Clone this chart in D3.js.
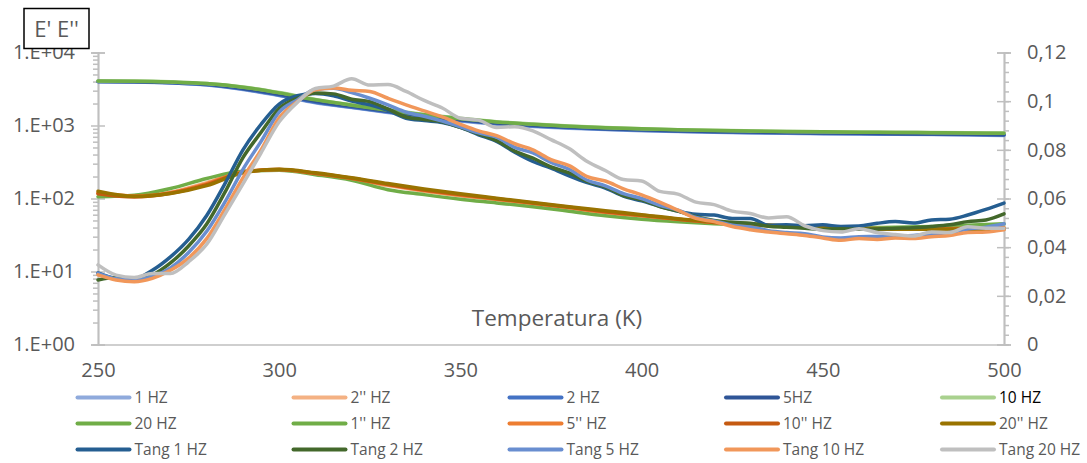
<!DOCTYPE html>
<html>
<head>
<meta charset="utf-8">
<script src="https://cdn.jsdelivr.net/npm/d3@7"></script>
<style>
  body { margin: 0; background: #fff; }
  text { font-family: "Open Sans", sans-serif; }
</style>
</head>
<body>
<script>
// temperatures (K)
var tempE = [250, 260, 270, 280, 290, 300, 310, 320, 330, 340, 350, 360, 370,
    380, 390, 400, 410, 420, 430, 440, 450, 460, 470, 480, 490, 500];
var tempTan = [250, 255, 260, 265, 270, 275, 280, 285, 290, 295, 300, 305, 310,
    315, 320, 325, 330, 335, 340, 345, 350, 355, 360, 365, 370, 375, 380, 385,
    390, 395, 400, 405, 410, 415, 420, 425, 430, 435, 440, 445, 450, 455, 460,
    465, 470, 475, 480, 485, 490, 495, 500];

// E' (storage modulus), left log axis
var e1 = [3990, 3950, 3830, 3590, 3120, 2570, 2050, 1760, 1510, 1310, 1155, 1045, 972, 920, 880, 850, 826, 806, 792, 782, 772, 764, 757, 750, 742, 732];
var e2 = [4000, 3960, 3840, 3610, 3150, 2600, 2080, 1780, 1530, 1330, 1170, 1060, 985, 930, 890, 860, 835, 815, 800, 790, 780, 772, 765, 758, 750, 740];
var e5 = [4020, 3990, 3880, 3660, 3220, 2680, 2150, 1830, 1570, 1360, 1200, 1085, 1005, 950, 905, 872, 848, 828, 812, 800, 790, 781, 773, 765, 757, 748];
var e10 = [4080, 4060, 3960, 3760, 3370, 2830, 2280, 1920, 1640, 1420, 1255, 1130, 1050, 988, 940, 905, 878, 858, 843, 830, 820, 812, 806, 800, 794, 788];
var e20 = [4070, 4050, 3950, 3750, 3350, 2800, 2250, 1900, 1620, 1400, 1240, 1120, 1040, 980, 935, 900, 875, 855, 840, 828, 818, 810, 805, 798, 792, 785];

// E'' (loss modulus), left log axis
var l1 = [106, 111, 137, 188, 237, 243, 212, 178, 132, 113, 98, 87, 77, 67, 58, 52, 48, 45, 43, 41.5, 40.5, 40, 40.5, 41.5, 43, 45];
var l2 = [118, 108, 122, 165, 232, 248, 218, 185, 150, 126, 109, 96, 84, 73, 64, 57, 51, 47, 44, 42, 40.5, 39.5, 39, 39, 39.5, 40];
var l5 = [120, 108, 120, 160, 230, 250, 220, 188, 154, 129, 111, 98, 86, 75, 65, 58, 52, 47, 44, 41.5, 40, 39, 38.5, 38.5, 39, 39.5];
var l10 = [116, 105, 118, 155, 228, 250, 222, 190, 156, 131, 113, 99, 87, 76, 66, 59, 52, 47, 44, 41.5, 40, 38.5, 38, 38, 38.5, 39];
var l20 = [126, 107, 117, 150, 225, 252, 225, 192, 160, 135, 116, 101, 88, 77, 68, 60, 53, 48, 45, 42, 40, 38.5, 38, 38, 38, 38];

// tan delta, right linear axis
var t1 = [.0294, .0272, .027, .0305, .036, .0432, .053, .066, .08, .0905, .0988, .1022, .1032, .1022, .1, .0985, .0962, .093, .092, .0912, .0892, .0862, .0835, .079, .0752, .0725, .0693, .0665, .0643, .061, .059, .0568, .0548, .0535, .0532, .0518, .0518, .049, .0492, .0488, .0492, .0485, .0487, .0498, .0505, .0499, .0512, .0515, .0532, .0555, .0581];
var t2 = [.0265, .0275, .0262, .0285, .0335, .0405, .0495, .0625, .0768, .0872, .097, .1012, .1034, .103, .1008, .0998, .0968, .0935, .0925, .0915, .0892, .0866, .0838, .0795, .0766, .073, .0705, .067, .0648, .0612, .0595, .0567, .0548, .0525, .051, .0502, .0498, .0486, .0482, .0478, .0473, .0476, .0474, .0475, .0478, .048, .0485, .0492, .0505, .0512, .0537];
var t5 = [.0292, .027, .0265, .028, .0315, .0378, .0465, .0585, .072, .0835, .0955, .1005, .1048, .1053, .1035, .1012, .0985, .0955, .0938, .0918, .0895, .087, .0852, .081, .0787, .0748, .072, .0675, .0652, .062, .06, .0572, .0552, .0522, .0508, .049, .0483, .0468, .046, .0455, .0442, .0438, .0443, .0444, .0446, .0448, .0454, .046, .0475, .0482, .0496];
var t10 = [.0286, .0265, .0258, .0272, .0305, .0355, .0435, .0555, .0685, .08, .0932, .0998, .1047, .1054, .1045, .104, .1012, .0985, .096, .0935, .0905, .0878, .0858, .0825, .08, .076, .0735, .069, .0672, .064, .0615, .0585, .0552, .0518, .0505, .0485, .0472, .0462, .0455, .0448, .0438, .0428, .0436, .0432, .0438, .0436, .0443, .0448, .046, .0462, .0471];
var t20 = [.0327, .0285, .0275, .0292, .0292, .034, .0412, .0535, .066, .0788, .0915, .0995, .1052, .1062, .1092, .1066, .1068, .104, .1003, .0972, .093, .0922, .0892, .0895, .0878, .0842, .0805, .0752, .0715, .0678, .0672, .0629, .0618, .0585, .0575, .0548, .0538, .052, .0525, .0488, .0468, .0462, .0476, .046, .0452, .0446, .0462, .046, .0484, .0478, .0478];

var logTicks = [1, 10, 100, 1000, 10000];
var logTickLabels = ["1.E+00", "1.E+01", "1.E+02", "1.E+03", "1.E+04"];
var tanTicks = [0, 0.02, 0.04, 0.06, 0.08, 0.1, 0.12];
var tanTickLabels = ["0", "0,02", "0,04", "0,06", "0,08", "0,1", "0,12"];
var xTicks = [250, 300, 350, 400, 450, 500];

// series in legend order (row by row), later ones drawn on top
var series = [
    {name: "1 HZ", color: "#8FAADC", x: tempE, y: e1, axis: "log"},
    {name: "2'' HZ", color: "#F4B183", x: tempE, y: l2, axis: "log"},
    {name: "2 HZ", color: "#4472C4", x: tempE, y: e2, axis: "log"},
    {name: "5HZ", color: "#2F5597", x: tempE, y: e5, axis: "log"},
    {name: "10 HZ", color: "#A9D18E", x: tempE, y: e10, axis: "log"},
    {name: "20 HZ", color: "#70AD47", x: tempE, y: e20, axis: "log"},
    {name: "1'' HZ", color: "#70AD47", x: tempE, y: l1, axis: "log"},
    {name: "5'' HZ", color: "#ED7D31", x: tempE, y: l5, axis: "log"},
    {name: "10'' HZ", color: "#C55A11", x: tempE, y: l10, axis: "log"},
    {name: "20'' HZ", color: "#997300", x: tempE, y: l20, axis: "log"},
    {name: "Tang 1 HZ", color: "#255E91", x: tempTan, y: t1, axis: "tan"},
    {name: "Tang 2 HZ", color: "#43682B", x: tempTan, y: t2, axis: "tan"},
    {name: "Tang 5 HZ", color: "#698ED0", x: tempTan, y: t5, axis: "tan"},
    {name: "Tang 10 HZ", color: "#F1975A", x: tempTan, y: t10, axis: "tan"},
    {name: "Tang 20 HZ", color: "#BFBFBF", x: tempTan, y: t20, axis: "tan"}
];

const canvWidth = 1087, canvHeight = 463;
const margin = {top: 52.5, left: 98, right: 83};
const width = canvWidth - margin.left - margin.right;
const height = 292;
const axisColor = "#BFBFBF", textColor = "#595959";

const svg = d3.select("body").append("svg")
    .attr("width", canvWidth)
    .attr("height", canvHeight);

const g = svg.append("g")
    .attr("transform", "translate(" + margin.left + "," + margin.top + ")");

var xScale = d3.scaleLinear().domain([250, 500]).range([0, width]);
var yLog = d3.scaleLog().domain([1, 10000]).range([height, 0]);
var yTan = d3.scaleLinear().domain([0, 0.12]).range([height, 0]);

// minor ticks for log axis
var logMinor = [];
logTicks.slice(0, 4).forEach(function (d) {
    [2, 3, 4, 5, 6, 7, 8, 9].forEach(function (m) { logMinor.push(d * m); });
});
var tanMinor = d3.range(0, 0.1201, 0.004);

function styleAxis(sel) {
    sel.select(".domain").attr("stroke", axisColor).attr("stroke-width", 1.5);
    sel.selectAll(".tick line").attr("stroke", axisColor).attr("stroke-width", 1.5);
    sel.selectAll(".tick text").attr("fill", textColor).attr("font-size", "20px");
}

// left axis: minor, inner half of majors, then majors with labels
g.append("g").call(d3.axisLeft(yLog).tickValues(logMinor).tickSize(5).tickFormat(""))
    .call(styleAxis);
g.append("g").call(d3.axisRight(yLog).tickValues(logTicks).tickSize(7).tickFormat(""))
    .call(styleAxis);
g.append("g")
    .call(d3.axisLeft(yLog).tickValues(logTicks).tickSize(7).tickPadding(16)
        .tickFormat(function (d, i) { return logTickLabels[i]; }))
    .call(styleAxis);

// right axis
var right = g.append("g").attr("transform", "translate(" + width + ",0)");
right.append("g").call(d3.axisRight(yTan).tickValues(tanMinor).tickSize(5).tickFormat(""))
    .call(styleAxis);
right.append("g").call(d3.axisLeft(yTan).tickValues(tanTicks).tickSize(7).tickFormat(""))
    .call(styleAxis);
right.append("g")
    .call(d3.axisRight(yTan).tickValues(tanTicks).tickSize(7).tickPadding(16)
        .tickFormat(function (d, i) { return tanTickLabels[i]; }))
    .call(styleAxis);

// bottom axis
g.append("g")
    .attr("transform", "translate(0," + height + ")")
    .call(d3.axisBottom(xScale).tickValues(xTicks).tickSize(0).tickPadding(18).tickSizeOuter(0))
    .call(styleAxis);

// axis title inside the plot
g.append("text")
    .attr("x", 459)
    .attr("y", 273.5)
    .attr("text-anchor", "middle")
    .attr("fill", textColor)
    .attr("font-size", "22.5px")
    .text("Temperatura (K)");

// y title box
svg.append("rect")
    .attr("x", 24).attr("y", 8.5)
    .attr("width", 65).attr("height", 40)
    .attr("fill", "#fff")
    .attr("stroke", "#000")
    .attr("stroke-width", 1.5);
svg.append("text")
    .attr("x", 56.5).attr("y", 37)
    .attr("text-anchor", "middle")
    .attr("fill", textColor)
    .attr("font-size", "22px")
    .text("E' E''");

// lines
var lineFunction = function (s) {
    var yScale = s.axis == "log" ? yLog : yTan;
    return d3.line()
        .x(function (d, i) { return xScale(s.x[i]); })
        .y(function (d) { return yScale(d); })
        .curve(d3.curveMonotoneX)(s.y);
};

g.selectAll("path.series")
    .data(series)
    .enter()
    .append("path")
    .attr("class", "series")
    .attr("d", lineFunction)
    .attr("fill", "none")
    .attr("stroke", function (d) { return d.color; })
    .attr("stroke-width", 3.5)
    .attr("stroke-linejoin", "round")
    .attr("stroke-linecap", "round");

// legend, 5 columns
var legendX = [76.5, 292.5, 508.5, 725, 941];
var legendY = [397.5, 423.5, 449.5];

var items = svg.selectAll("g.legend")
    .data(series)
    .enter()
    .append("g")
    .attr("class", "legend")
    .attr("transform", function (d, i) {
        return "translate(" + legendX[i % 5] + "," + legendY[Math.floor(i / 5)] + ")";
    });

items.append("line")
    .attr("x1", 1).attr("x2", 53)
    .attr("stroke", function (d) { return d.color; })
    .attr("stroke-width", 4)
    .attr("stroke-linecap", "round");

items.append("text")
    .attr("x", 58)
    .attr("dy", "0.36em")
    .attr("font-size", "15.5px")
    .attr("fill", function (d) { return d.name == "10 HZ" ? "#000" : textColor; })
    .text(function (d) { return d.name; });
</script>
</body>
</html>
